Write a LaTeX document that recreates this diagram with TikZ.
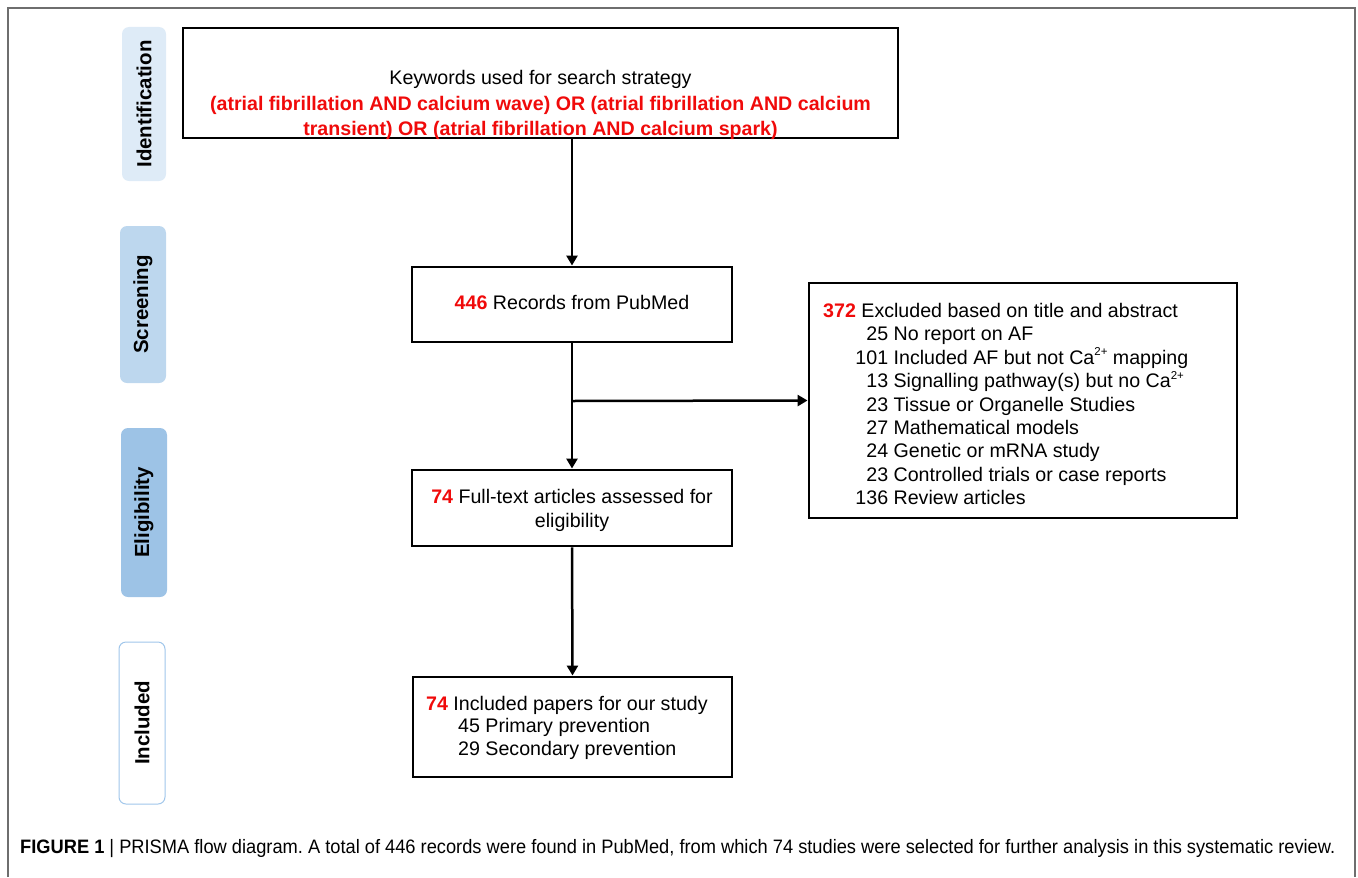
\documentclass[tikz,border=0pt]{standalone}
\usepackage{fontspec}
\setmainfont{Liberation Sans}
\newfontfamily\capfont[FakeStretch=0.94]{Liberation Sans}
\usetikzlibrary{arrows.meta}
\frenchspacing
\definecolor{idfill}{RGB}{222,235,247}
\definecolor{scrfill}{RGB}{189,215,238}
\definecolor{elifill}{RGB}{157,195,230}
\definecolor{incborder}{RGB}{160,198,235}
\definecolor{kred}{RGB}{240,10,10}
\definecolor{framegray}{RGB}{110,110,110}
\newcommand\rb[1]{\textcolor{kred}{\bfseries #1}}
\newcommand\nm[1]{\hspace*{32bp}\makebox[33bp][r]{#1}}
\newcommand\caion{Ca\raisebox{0.42em}{\fontsize{11.5}{11.5}\selectfont 2+}}
\begin{document}
\begin{tikzpicture}[x=1bp,y=-1bp,
  box/.style={draw=black, line width=2.9bp, inner sep=0pt},
  tab/.style={rounded corners=7bp, inner sep=0pt, rotate=90,
    font=\fontsize{20.5}{23}\selectfont\bfseries},
  arr/.style={line width=2.5bp, -{Triangle[length=10bp,width=11bp]}},
  ln/.style={line width=2.5bp},
  txt/.style={inner sep=0pt, font=\fontsize{19.7}{23.5}\selectfont}
  ]
\useasboundingbox (0,0) rectangle (1358,877);
% outer frame
\draw[framegray, line width=1.6bp] (8,877) -- (8,8) -- (1355,8) -- (1355,877);

% stage tabs
\node[tab, fill=idfill, minimum width=154bp, minimum height=44bp] (idtab) at (144,104) {Identification};
\node[tab, fill=scrfill, minimum width=157bp, minimum height=46bp] (scrtab) at (143,304.5) {Screening};
\node[tab, fill=elifill, minimum width=169bp, minimum height=46bp] (elitab) at (144,512.5) {Eligibility};
\node[tab, fill=white, draw=incborder, line width=1bp, minimum width=162bp, minimum height=46bp] (inctab) at (142,723) {Included};

% boxes
\node[box, minimum width=715bp, minimum height=110bp] (top) at (540.5,83) {};
\node[txt, align=center, font=\fontsize{19.7}{26}\selectfont] (toptxt) at (540.5,105)
  {Keywords used for search strategy\\
   \rb{(atrial fibrillation AND calcium wave) OR (atrial fibrillation AND calcium}\\
   \rb{transient) OR (atrial fibrillation AND calcium spark)}};

\node[box, minimum width=320bp, minimum height=75bp] (recs) at (572,304.5) {};
\node[txt] (recstxt) at (572,302) {\rb{446} Records from PubMed};

\node[box, minimum width=320bp, minimum height=76bp] (full) at (572,508) {};
\node[txt, align=center, font=\fontsize{19.7}{24}\selectfont] (fulltxt) at (572,510)
  {\rb{74} Full-text articles assessed for\\eligibility};

\node[box, minimum width=319bp, minimum height=100bp] (incl) at (572.5,727) {};
\node[txt, anchor=west, align=left, font=\fontsize{19.7}{22.5}\selectfont] (incltxt) at (426,727.5)
  {\rb{74} Included papers for our study\\
   \hspace*{32bp}45 Primary prevention\\
   \hspace*{32bp}29 Secondary prevention};

\node[box, minimum width=428bp, minimum height=235bp] (excl) at (1023,400.5) {};
\node[txt, anchor=west, align=left] (excltxt) at (823,404)
  {\rb{372} Excluded based on title and abstract\\
   \nm{25} No report on AF\\
   \nm{101} Included AF but not \caion{} mapping\\
   \nm{13} Signalling pathway(s) but no \caion\\
   \nm{23} Tissue or Organelle Studies\\
   \nm{27} Mathematical models\\
   \nm{24} Genetic or mRNA study\\
   \nm{23} Controlled trials or case reports\\
   \nm{136} Review articles};

% connectors
\coordinate (br) at (572,401);
\draw[arr] (recs.north |- top.south) -- (recs.north);
\draw[ln] (recs.south) -- (br);
\draw[arr] (br) -- (full.north);
\draw[arr] (br) -- (excl.west);
\draw[arr] (full.south) -- (incl.north);

% caption
\node[inner sep=0pt, anchor=west, font=\capfont\fontsize{19.5}{22}\selectfont] (cap) at (20,849)
  {\textbf{FIGURE 1} | PRISMA flow diagram. A total of 446 records were found in PubMed, from which 74 studies were selected for further analysis in this systematic review.};
\end{tikzpicture}
\end{document}
